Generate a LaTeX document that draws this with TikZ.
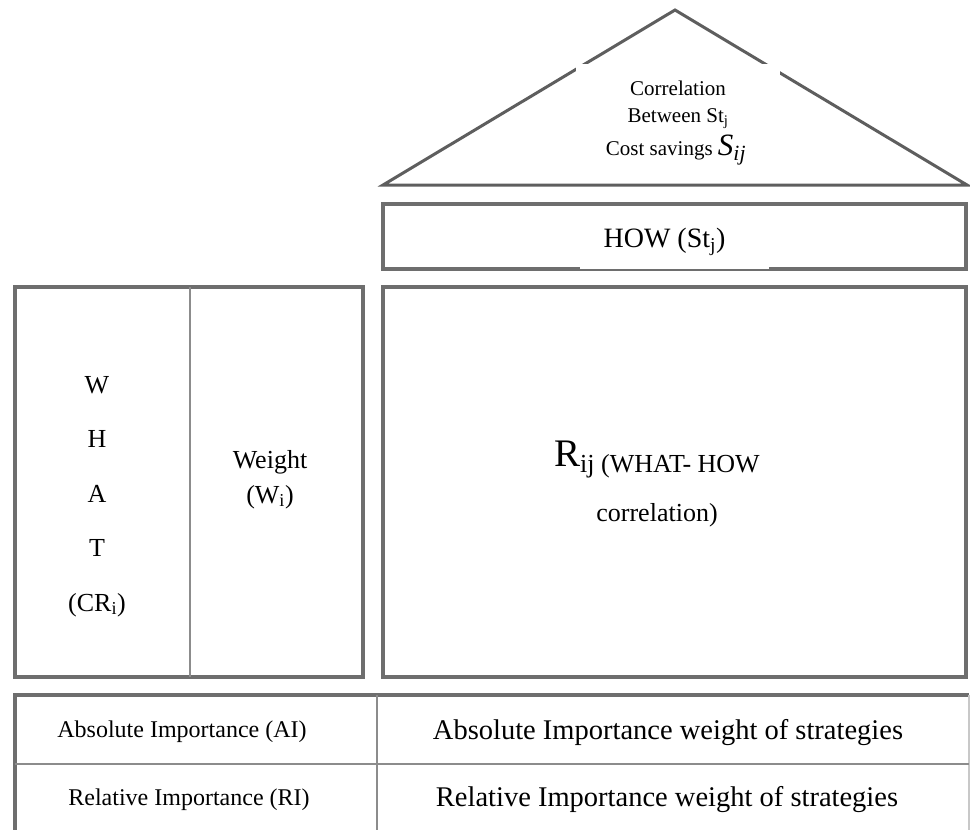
\documentclass[tikz,border=0pt]{standalone}
\usepackage{fontspec}
\setmainfont{Liberation Serif}
\definecolor{bordc}{HTML}{6E6E6E}
\definecolor{roofc}{HTML}{5E5E5E}
\definecolor{thinc}{HTML}{8C8C8C}
\definecolor{lightc}{HTML}{C8C8C8}
\newcommand{\fs}[1]{\fontsize{#1}{#1}\selectfont}
\begin{document}
\begin{tikzpicture}[x=1pt,y=-1pt,
  thickbox/.style={draw=bordc,line width=3.5pt},
  thinline/.style={draw=thinc,line width=1.6pt},
  roofline/.style={draw=roofc,line width=3pt},
  lbl/.style={inner sep=0pt,anchor=base,text=black}]
\useasboundingbox (0,0) rectangle (970,830);
% roof
\draw[roofline] (383,185) -- (675,10) -- (967,185) -- cycle;
\fill[white] (576,64) rectangle (780,178);
\node[lbl,font=\fs{21}] (r1) at (678,95) {Correlation};
\node[lbl,font=\fs{21}] (r2) at (678,122) {Between St\textsubscript{j}};
\node[lbl,font=\fs{21}] (r3) at (676,155) {Cost savings {\fs{31}\textit{S}\textsubscript{\textit{ij}}}};
% HOW box
\draw[thickbox] (383,204) rectangle (966,269);
\fill[white] (580,222) rectangle (769,268.6);
\node[lbl,font=\fs{28}] (how) at (664.5,247) {HOW (St\textsubscript{j})};
% WHAT / weight box
\draw[thickbox] (15,287) rectangle (363,677);
\draw[thinline] (190,287) -- (190,677);
\node[lbl,font=\fs{26}] (w) at (97,393) {W};
\node[lbl,font=\fs{26}] (h) at (97,447) {H};
\node[lbl,font=\fs{26}] (a) at (97,502) {A};
\node[lbl,font=\fs{26}] (t) at (97,556) {T};
\node[lbl,font=\fs{26}] (cr) at (97,611) {(CR\textsubscript{i})};
\node[lbl,font=\fs{26}] (wt) at (270,468) {Weight};
\node[lbl,font=\fs{26}] (wi) at (270,503) {(W\textsubscript{i})};
% relationship matrix
\draw[thickbox] (383,287) rectangle (966,677);
\node[lbl] (rij) at (657,466) {{\fs{39}R}{\fs{26}\raisebox{-6pt}{ij (WHAT- HOW}}};
\node[lbl,font=\fs{26}] (corr) at (657,521) {correlation)};
% bottom table
\draw[thickbox] (969,695) -- (15,695) -- (15,834);
\draw[draw=lightc,line width=1.6pt] (969,695) -- (969,834);
\draw[thinline] (15,764) -- (969,764);
\draw[thinline] (377,695) -- (377,834);
\node[lbl,font=\fs{24}] (ai) at (182,737) {Absolute Importance (AI)};
\node[lbl,font=\fs{24}] (ri) at (189,805) {Relative Importance (RI)};
\node[lbl,font=\fs{28.5}] (aiw) at (668,739) {Absolute Importance weight of strategies};
\node[lbl,font=\fs{28.5}] (riw) at (667,806) {Relative Importance weight of strategies};
\end{tikzpicture}
\end{document}
